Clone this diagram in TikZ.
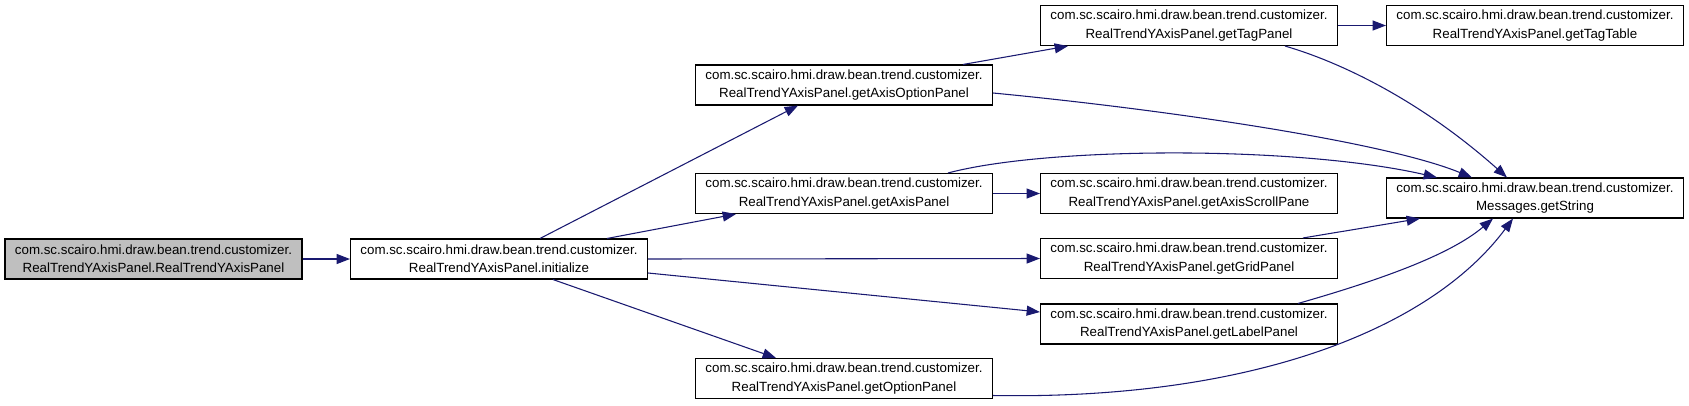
\documentclass[tikz,border=0pt]{standalone}
\usepackage{fontspec}
\setmainfont{Liberation Sans}
\usetikzlibrary{arrows.meta,calc}
\definecolor{edgeblue}{HTML}{191970}
\definecolor{rootgray}{HTML}{BFBFBF}
\begin{document}
\begin{tikzpicture}[x=0.75pt,y=-0.75pt,
  box/.style={draw=black,line width=0.8pt,fill=white,minimum width=222.75pt,minimum height=30pt,inner sep=0pt,align=center,font=\fontsize{10}{13.7}\selectfont},
  rootbox/.style={box,fill=rootgray},
  edge/.style={draw=edgeblue,line width=0.8pt,-{Triangle[length=10pt,width=7.5pt]}}]
\useasboundingbox (0,0) rectangle (1689,405);
\node[rootbox] (root) at (153.5,259) {com.sc.scairo.hmi.draw.bean.trend.customizer.\\RealTrendYAxisPanel.RealTrendYAxisPanel};
\node[box] (init) at (499,259) {com.sc.scairo.hmi.draw.bean.trend.customizer.\\RealTrendYAxisPanel.initialize};
\node[box] (axisopt) at (844,85) {com.sc.scairo.hmi.draw.bean.trend.customizer.\\RealTrendYAxisPanel.getAxisOptionPanel};
\node[box] (tagpanel) at (1189,25.5) {com.sc.scairo.hmi.draw.bean.trend.customizer.\\RealTrendYAxisPanel.getTagPanel};
\node[box] (tagtable) at (1535,25.5) {com.sc.scairo.hmi.draw.bean.trend.customizer.\\RealTrendYAxisPanel.getTagTable};
\node[box] (axispanel) at (844,193.5) {com.sc.scairo.hmi.draw.bean.trend.customizer.\\RealTrendYAxisPanel.getAxisPanel};
\node[box] (scroll) at (1189,193.5) {com.sc.scairo.hmi.draw.bean.trend.customizer.\\RealTrendYAxisPanel.getAxisScrollPane};
\node[box] (msg) at (1535,198) {com.sc.scairo.hmi.draw.bean.trend.customizer.\\Messages.getString};
\node[box] (grid) at (1189,258.5) {com.sc.scairo.hmi.draw.bean.trend.customizer.\\RealTrendYAxisPanel.getGridPanel};
\node[box] (label) at (1189,324) {com.sc.scairo.hmi.draw.bean.trend.customizer.\\RealTrendYAxisPanel.getLabelPanel};
\node[box] (option) at (844,378.5) {com.sc.scairo.hmi.draw.bean.trend.customizer.\\RealTrendYAxisPanel.getOptionPanel};
% edges
\draw[edge] (root.east) -- (init.west);
\draw[edge] ($(init.north)+(41,0)$) -- ($(axisopt.south)+(-46,0)$);
\draw[edge] ($(init.north)+(108,0)$) -- ($(axispanel.south)+(-108,0)$);
\draw[edge] (init.east) -- (grid.west);
\draw[edge] ($(init.east)+(0,14)$) -- ($(label.west)+(0,-12)$);
\draw[edge] ($(init.south)+(54,0)$) -- ($(option.north)+(-68,0)$);
\draw[edge] ($(axisopt.north)+(119,0)$) -- ($(tagpanel.south)+(-121,0)$);
\draw[edge] ($(axisopt.east)+(0,8)$) .. controls (1150,108) and (1380,140) .. ($(msg.north)+(-63,0)$);
\draw[edge] (tagpanel.east) -- (tagtable.west);
\draw[edge] ($(tagpanel.south)+(96,0)$) .. controls (1340,62) and (1420,100) .. ($(msg.north)+(-28,0)$);
\draw[edge] (axispanel.east) -- (scroll.west);
\draw[edge] ($(axispanel.north)+(104,0)$) .. controls (1050,146) and (1300,146) .. ($(msg.north)+(-98,0)$);
\draw[edge] ($(grid.north)+(114,0)$) -- ($(msg.south)+(-115,0)$);
\draw[edge] ($(label.north)+(109,0)$) .. controls (1380,280) and (1450,255) .. ($(msg.south)+(-42,0)$);
\draw[edge] ($(option.east)+(0,17)$) .. controls (1250,400) and (1430,330) .. ($(msg.south)+(-22,0)$);
\end{tikzpicture}
\end{document}
